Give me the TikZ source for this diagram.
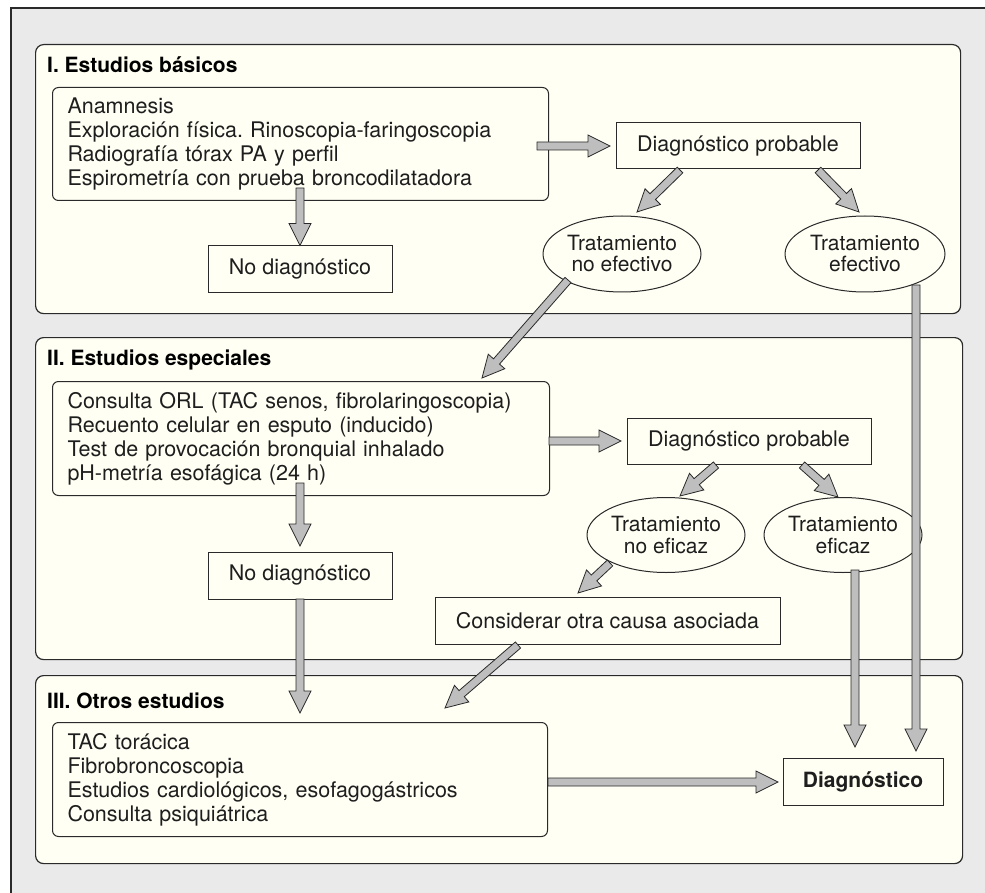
\documentclass[tikz,border=0pt]{standalone}
\usepackage{fontspec}
\setmainfont{TeX Gyre Heros}
\usetikzlibrary{calc,shapes.geometric}
\frenchspacing
\definecolor{outerbg}{HTML}{EAEAEA}
\definecolor{cream}{HTML}{FFFFF4}
\definecolor{arrowgray}{HTML}{BEBEBE}
\definecolor{ink}{HTML}{1E1E1E}
\definecolor{linec}{HTML}{2A2A2A}
\newcommand\blockarrow[2]{%
  \coordinate (nk) at ($(#2)!22pt!(#1)$);
  \filldraw[blockarr] ($(#1)!4pt!90:(#2)$) -- ($(nk)!4pt!90:(#2)$) -- ($(nk)!11pt!90:(#2)$) -- (#2) -- ($(nk)!11pt!-90:(#2)$) -- ($(nk)!4pt!-90:(#2)$) -- ($(#1)!4pt!-90:(#2)$) -- cycle;}
\tikzset{
  sect/.style={draw=linec, line width=1.2pt, fill=cream, rounded corners=8pt, anchor=north west, inner sep=0pt},
  listbox/.style={draw=linec, line width=1pt, rounded corners=6pt, anchor=north west, align=left, inner xsep=15pt, inner ysep=0pt, text=ink, font=\fontsize{21.5}{24}\selectfont},
  rectbox/.style={draw=linec, line width=1pt, fill=cream, text=ink, inner sep=0pt, font=\fontsize{21.5}{24}\selectfont},
  ovalbox/.style={ellipse, draw=linec, line width=1pt, fill=cream, inner sep=0pt, align=center, text=ink, font=\fontsize{21}{21}\selectfont},
  sectitle/.style={anchor=base west, inner sep=0pt, text=black, font=\bfseries\fontsize{21}{24}\selectfont},
  blockarr/.style={fill=arrowgray, draw=linec, line width=0.8pt, line join=miter}
}
\begin{document}
\begin{tikzpicture}[x=1pt,y=-1pt]
\useasboundingbox (0,0) rectangle (985,893);
\fill[white] (0,0) rectangle (985,893);
\filldraw[fill=outerbg, draw=linec, line width=1.3pt] (11,8) rectangle (1010,920);
% sections
\node[sect, minimum width=925pt, minimum height=269pt] (s1) at (35,44) {};
\node[sect, minimum width=927pt, minimum height=322pt] (s2) at (35,337) {};
\node[sect, minimum width=927pt, minimum height=188pt] (s3) at (35,675) {};
\node[sectitle] (t1) at (47,73) {I. Estudios básicos};
\node[sectitle] (t2) at (47,365) {II. Estudios especiales};
\node[sectitle] (t3) at (47,708) {III. Otros estudios};
% section I
\node[listbox, minimum width=496pt, minimum height=113pt, text width=466pt] (b1) at (52,87)
  {Anamnesis\\Exploración física. Rinoscopia-faringoscopia\\Radiografía tórax PA y perfil\\Espirometría con prueba broncodilatadora};
\node[rectbox, minimum width=184pt, minimum height=47pt] (n1) at (300,269.5) {No diagnóstico};
\node[rectbox, minimum width=244pt, minimum height=46pt] (d1) at (738,146) {Diagnóstico probable};
\node[ovalbox, minimum width=158pt, minimum height=76pt] (e1) at (622,254) {Tratamiento\\no efectivo};
\node[ovalbox, minimum width=160pt, minimum height=76pt] (e2) at (865,254) {Tratamiento\\efectivo};
% section II
\node[listbox, minimum width=497pt, minimum height=114pt, text width=467pt] (b2) at (52,381)
  {Consulta ORL (TAC senos, fibrolaringoscopia)\\Recuento celular en esputo (inducido)\\Test de provocación bronquial inhalado\\pH-metría esofágica (24 h)};
\node[rectbox, minimum width=244pt, minimum height=46pt] (d2) at (749,441) {Diagnóstico probable};
\node[ovalbox, minimum width=158pt, minimum height=75pt] (e3) at (666,535) {Tratamiento\\no eficaz};
\node[ovalbox, minimum width=158pt, minimum height=75pt] (e4) at (843,535) {Tratamiento\\eficaz};
\node[rectbox, minimum width=184pt, minimum height=47pt] (n2) at (300,575.5) {No diagnóstico};
\node[rectbox, minimum width=345pt, minimum height=47pt] (c1) at (607.5,620.5) {Considerar otra causa asociada};
% section III
\node[listbox, minimum width=495pt, minimum height=114pt, text width=465pt] (b3) at (52,722)
  {TAC torácica\\Fibrobroncoscopia\\Estudios cardiológicos, esofagogástricos\\Consulta psiquiátrica};
\node[rectbox, minimum width=160pt, minimum height=47pt, font=\bfseries\fontsize{21}{24}\selectfont] (dx) at (863,781.5) {Diagnóstico};
% arrow end points
\coordinate (a1s) at (300,188);
\coordinate (a2s) at (537,146);  \coordinate (a2e) at (610,146);
\coordinate (a3s) at (680,170);  \coordinate (a3e) at (637,212);
\coordinate (a4s) at (818,170);  \coordinate (a4e) at (859,212);
\coordinate (a5s) at (568,280);  \coordinate (a5e) at (482,378);
\coordinate (a6s) at (916,285);  \coordinate (a6e) at (916,751);
\coordinate (a7s) at (300,483);  \coordinate (a7e) at (300,546);
\coordinate (a8s) at (549,441);  \coordinate (a8e) at (621,441);
\coordinate (a9s) at (716,465);  \coordinate (a9e) at (680,496);
\coordinate (a10s) at (802,465); \coordinate (a10e) at (838,497);
\coordinate (a11s) at (610,563); \coordinate (a11e) at (578,593);
\coordinate (a12s) at (855,570); \coordinate (a12e) at (855,747);
\coordinate (a13s) at (300,599); \coordinate (a13e) at (300,713);
\coordinate (a14s) at (518,645); \coordinate (a14e) at (445,708);
\coordinate (a15s) at (548,782); \coordinate (a15e) at (778,782);
% arrows
\blockarrow{a1s}{n1.north}
\blockarrow{a2s}{a2e}
\blockarrow{a3s}{a3e}
\blockarrow{a4s}{a4e}
\blockarrow{a5s}{a5e}
\blockarrow{a6s}{a6e}
\blockarrow{a7s}{a7e}
\blockarrow{a8s}{a8e}
\blockarrow{a9s}{a9e}
\blockarrow{a10s}{a10e}
\blockarrow{a11s}{a11e}
\blockarrow{a12s}{a12e}
\blockarrow{a13s}{a13e}
\blockarrow{a14s}{a14e}
\blockarrow{a15s}{a15e}
\end{tikzpicture}
\end{document}
